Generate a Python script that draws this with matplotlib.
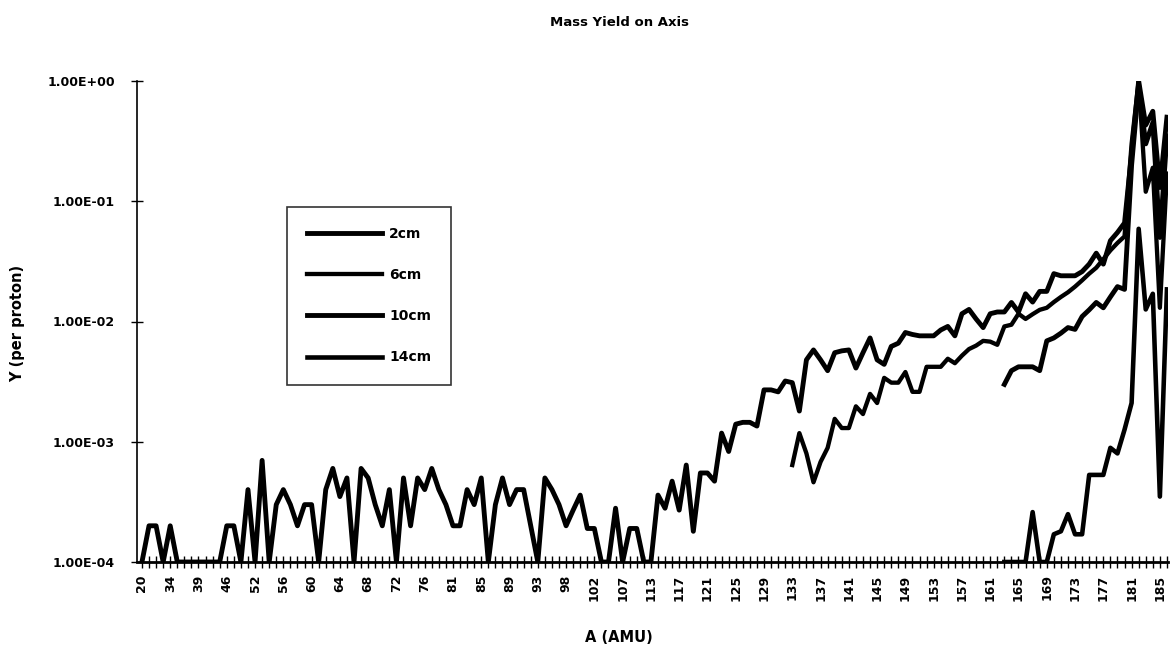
import numpy as np
import matplotlib
matplotlib.use("Agg")
import matplotlib.pyplot as plt
from matplotlib.ticker import FixedLocator, NullLocator

# Category axis: mass numbers A (AMU) present in the table
mass_numbers = [20, 26, 30, 33, 34, 35, 36, 37, 39, 40, 42, 44, 46, 48, 49, 50,
                52, 53, 54, 55, 56, 57, 58, 59, 60, 61, 62, 63, 64, 65, 66, 67,
                68, 69, 70, 71, 72, 73, 74, 75, 76, 77, 78, 80, 81, 82, 83, 84,
                85, 86, 87, 88, 89, 90, 91, 92, 93, 94, 95, 96, 98, 99, 100, 101,
                102, 103, 104, 106, 107, 108, 109, 111, 113, 114, 115, 116, 117,
                118, 119, 120, 121, 122, 123, 124, 125, 126, 127, 128, 129, 130,
                131, 132, 133, 134, 135, 136, 137, 138, 139, 140, 141, 142, 143,
                144, 145, 146, 147, 148, 149, 150, 151, 152, 153, 154, 155, 156,
                157, 158, 159, 160, 161, 162, 163, 164, 165, 166, 167, 168, 169,
                170, 171, 172, 173, 174, 175, 176, 177, 178, 179, 180, 181, 182,
                183, 184, 185, 186]

series_names = ["2cm", "6cm", "10cm", "14cm"]

yield_2cm = [1e-4, 2e-4, 2e-4, 1e-4, 2e-4, 1e-4, 1e-4, 1e-4, 1e-4, 1e-4, 1e-4, 1e-4,
             2e-4, 2e-4, 1e-4, 4e-4, 1e-4, 7e-4, 1e-4, 3e-4, 4e-4, 3e-4, 2e-4, 3e-4,
             3e-4, 1e-4, 4e-4, 6e-4, 3.5e-4, 5e-4, 1e-4, 6e-4, 5e-4, 3e-4, 2e-4, 4e-4,
             1e-4, 5e-4, 2e-4, 5e-4, 4e-4, 6e-4, 4e-4, 3e-4, 2e-4, 2e-4, 4e-4, 3e-4,
             5e-4, 1e-4, 3e-4, 5e-4, 3e-4, 4e-4, 4e-4, 2e-4, 1e-4, 5e-4, 4e-4, 3e-4,
             2e-4, 2.7e-4, 3.6e-4, 1.9e-4, 1.9e-4, 1e-4, 1e-4, 2.8e-4, 1e-4, 1.9e-4,
             1.9e-4, 1e-4, 1e-4, 3.6e-4, 2.8e-4, 4.7e-4, 2.7e-4, 6.4e-4, 1.8e-4, 5.5e-4,
             5.5e-4, 4.7e-4, 1.18e-3, 8.3e-4, 1.4e-3, 1.45e-3, 1.45e-3, 1.35e-3, 2.7e-3,
             2.7e-3, 2.6e-3, 3.2e-3, 3.1e-3, 1.8e-3, 4.8e-3, 5.8e-3, 4.8e-3, 3.9e-3,
             5.5e-3, 5.7e-3, 5.8e-3, 4.1e-3, 5.5e-3, 7.3e-3, 4.8e-3, 4.4e-3, 6.2e-3,
             6.6e-3, 8.1e-3, 7.8e-3, 7.6e-3, 7.6e-3, 7.6e-3, 8.5e-3, 9.1e-3, 7.6e-3,
             1.16e-2, 1.26e-2, 1.05e-2, 8.9e-3, 1.16e-2, 1.2e-2, 1.2e-2, 1.44e-2, 1.2e-2,
             1.7e-2, 1.45e-2, 1.78e-2, 1.78e-2, 2.5e-2, 2.4e-2, 2.4e-2, 2.4e-2, 2.6e-2,
             3e-2, 3.7e-2, 3e-2, 4.7e-2, 5.5e-2, 6.6e-2, 0.25, 1.0, 0.43, 0.56, 0.13, 0.5]

start_6cm = 133
yield_6cm = [6.4e-4, 1.18e-3, 8e-4, 4.6e-4, 6.8e-4, 8.9e-4, 1.55e-3, 1.3e-3, 1.3e-3,
             1.97e-3, 1.7e-3, 2.5e-3, 2.1e-3, 3.4e-3, 3.1e-3, 3.1e-3, 3.8e-3, 2.6e-3,
             2.6e-3, 4.2e-3, 4.2e-3, 4.2e-3, 4.9e-3, 4.5e-3, 5.2e-3, 5.9e-3, 6.3e-3,
             6.9e-3, 6.8e-3, 6.4e-3, 9.1e-3, 9.4e-3, 1.16e-2, 1.05e-2, 1.15e-2, 1.25e-2,
             1.3e-2, 1.45e-2, 1.6e-2, 1.75e-2, 1.95e-2, 2.2e-2, 2.5e-2, 2.8e-2, 3.3e-2,
             3.9e-2, 4.5e-2, 5.1e-2, 0.3, 1.0, 0.12, 0.19, 0.013, 0.17]

start_10cm = 163
yield_10cm = [3e-3, 3.9e-3, 4.2e-3, 4.2e-3, 4.2e-3, 3.9e-3, 6.9e-3, 7.3e-3, 8e-3,
              8.9e-3, 8.6e-3, 1.1e-2, 1.25e-2, 1.44e-2, 1.3e-2, 1.6e-2, 1.95e-2,
              1.85e-2, 0.2, 0.9, 0.3, 0.45, 0.05, 0.35]

start_14cm = 163
yield_14cm = [1e-4, 1e-4, 1e-4, 1e-4, 2.6e-4, 1e-4, 1e-4, 1.7e-4, 1.8e-4, 2.5e-4,
              1.7e-4, 1.7e-4, 5.3e-4, 5.3e-4, 5.3e-4, 8.9e-4, 8e-4, 1.26e-3, 2.1e-3,
              5.9e-2, 1.26e-2, 1.7e-2, 3.5e-4, 1.85e-2]

# ---------------------------------------------------------------------------
W, H = 1171, 652
fig = plt.figure(figsize=(W / 100, H / 100), dpi=100)
ax = fig.add_axes([137 / W, 1 - 562 / H, (1168 - 137) / W, (562 - 81) / H])
AW, AH = 1168 - 137, 562 - 81

x_all = np.arange(len(mass_numbers))

def positions(start, values):
    i0 = mass_numbers.index(start)
    return x_all[i0:i0 + len(values)]

ax.plot(x_all, yield_2cm, color="black", lw=3.5, label=series_names[0])
ax.plot(positions(start_6cm, yield_6cm), yield_6cm, color="black", lw=3.1, label=series_names[1])
ax.plot(positions(start_10cm, yield_10cm), yield_10cm, color="black", lw=3.5, label=series_names[2])
ax.plot(positions(start_14cm, yield_14cm), yield_14cm, color="black", lw=3.3, label=series_names[3])

ax.set_yscale("log")
ax.set_ylim(1e-4, 1.0)
ax.set_xlim(-0.7, len(mass_numbers) - 0.85)

ax.yaxis.set_major_locator(FixedLocator([1e-4, 1e-3, 1e-2, 1e-1, 1e0]))
ax.yaxis.set_minor_locator(NullLocator())
ax.set_yticklabels(["1.00E-04", "1.00E-03", "1.00E-02", "1.00E-01", "1.00E+00"],
                   fontsize=9, fontweight="bold")

ax.set_xticks(x_all)
ax.set_xticklabels([str(m) if i % 4 == 0 else "" for i, m in enumerate(mass_numbers)],
                   rotation=90, fontsize=9, fontweight="bold")

ax.tick_params(axis="both", direction="inout", length=8, width=1.0, color="black")
ax.tick_params(axis="x", pad=5)
ax.tick_params(axis="y", pad=12)

for s in ["top", "right"]:
    ax.spines[s].set_visible(False)
ax.spines["left"].set_linewidth(1.2)
ax.spines["bottom"].set_linewidth(2.0)

ax.set_xlabel("A (AMU)", fontsize=10.5, fontweight="bold")
ax.xaxis.set_label_coords((619 - 137) / AW, -(630 - 562) / AH)
ax.set_ylabel("Y (per proton)", fontsize=10.5, fontweight="bold")
ax.yaxis.set_label_coords(-(137 - 25) / AW, (562 - 323) / AH)
fig.text(620 / W, 1 - 22 / H, "Mass Yield on Axis", ha="center", va="center",
         fontsize=9.5, fontweight="bold")

leg = fig.legend(loc="upper left", bbox_to_anchor=(287 / W, 1 - 207 / H),
                 bbox_transform=fig.transFigure, frameon=True,
                 fancybox=False, edgecolor="black", handlelength=5.4,
                 labelspacing=1.95, borderpad=1.45, prop={"size": 10, "weight": "bold"},
                 handletextpad=0.5, borderaxespad=0)
leg.get_frame().set_linewidth(1.2)

fig.savefig("out.png", dpi=100)
